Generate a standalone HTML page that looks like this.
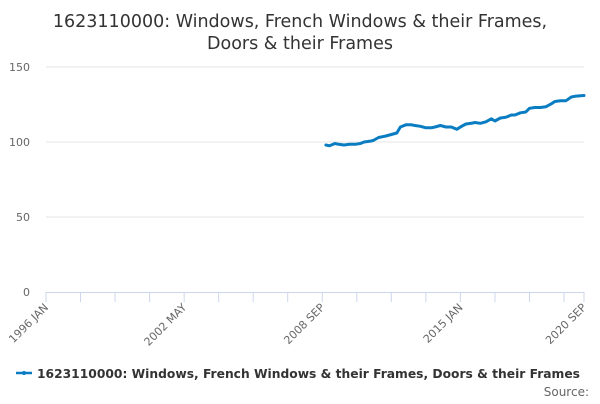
<!DOCTYPE html>
<html><head><meta charset="utf-8"><style>
body{margin:0;background:#fff;font-family:"DejaVu Sans","Liberation Sans",sans-serif}
svg text{font-family:"DejaVu Sans","Liberation Sans",sans-serif}
</style></head><body>
<svg id="c" width="600" height="400">
<text x="300" y="27" text-anchor="middle" font-size="17.5" fill="#333">1623110000: Windows, French Windows &amp; their Frames,</text>
<text x="300" y="49" text-anchor="middle" font-size="17.5" fill="#333">Doors &amp; their Frames</text>
<g id="grid"></g><g id="xaxis"></g><g id="plot"></g>
<g>
<line x1="16" y1="373" x2="32" y2="373" stroke="#0a7dc2" stroke-width="2.5"/>
<circle cx="24" cy="373" r="2" fill="#0a7dc2"/>
<text x="37" y="378" font-size="12.5" font-weight="bold" fill="#333" textLength="543" lengthAdjust="spacingAndGlyphs">1623110000: Windows, French Windows &amp; their Frames, Doors &amp; their Frames</text>
</g>
<text x="589" y="396" text-anchor="end" font-size="12" fill="#666">Source:</text>
</svg>
<script>
// month index since 1996 JAN
const months=[154,156,159,161,164,167,170,173,175,178,180,183,187,190,193,195,198,201,203,206,209,212,214,217,220,223,226,228,231,234,236,239,242,245,247,250,253,256,258,261,264,266,269,272,275,278,280,283,286,289,291,294,296];
const values=[98,97.5,99,98.5,98,98.5,98.5,99,100,100.5,101,103,104,105,106,110,111.5,111.5,111,110.5,109.5,109.5,110,111,110,110,108.5,110,112,112.5,113,112.5,113.5,115.5,114,116,116.5,118,118,119.5,120,122.5,123,123,123.5,125.5,127,127.5,127.5,130,130.5,130.8,131];
const yTicks=[0,50,100,150];
const xLabels=[[0,"1996 JAN"],[76,"2002 MAY"],[152,"2008 SEP"],[228,"2015 JAN"],[296,"2020 SEP"]];
const NS="http://www.w3.org/2000/svg";
const X0=46,X1=584,Y0=292;
const x=m=>X0+m*(X1-X0)/296;
const y=v=>Y0-v*1.5;
function mk(tag,attrs,parent,txt){const e=document.createElementNS(NS,tag);for(const k in attrs)e.setAttribute(k,attrs[k]);if(txt!=null)e.textContent=txt;document.getElementById(parent).appendChild(e);return e;}
yTicks.forEach(t=>{
  if(t>0){const l=mk('line',{x1:X0,x2:X1,y1:y(t),y2:y(t),stroke:'#e6e6e6'},'grid');
  
  }
  const tx=mk('text',{x:30,y:y(t)+4,'text-anchor':'end','font-size':11,fill:'#666'},'grid',t);
  
  
});
const ax=mk('line',{x1:X0,x2:X1,y1:Y0+0.5,y2:Y0+0.5,stroke:'#ccd6eb'},'xaxis');


for(let m=0;m<=296;m+=19){const tk=mk('line',{x1:x(m),x2:x(m),y1:Y0,y2:Y0+10,stroke:'#ccd6eb'},'xaxis');
  
  }
{const tk=mk('line',{x1:X1,x2:X1,y1:Y0,y2:Y0+10,stroke:'#ccd6eb'},'xaxis');
  
  }
xLabels.forEach(([m,s])=>{
  const t=mk('text',{x:x(m)+3,y:Y0+16,'text-anchor':'end','font-size':11,fill:'#666',transform:`rotate(-45 ${x(m)+3} ${Y0+16})`},'xaxis',s);
  
  
});
const d=months.map((m,i)=>(i?'L':'M')+x(m).toFixed(1)+','+y(values[i]).toFixed(1)).join('');
const p=mk('path',{d:d,fill:'none',stroke:'#0a7dc2','stroke-width':3,'stroke-linejoin':'round','stroke-linecap':'round'},'plot');


</script>
</body></html>
